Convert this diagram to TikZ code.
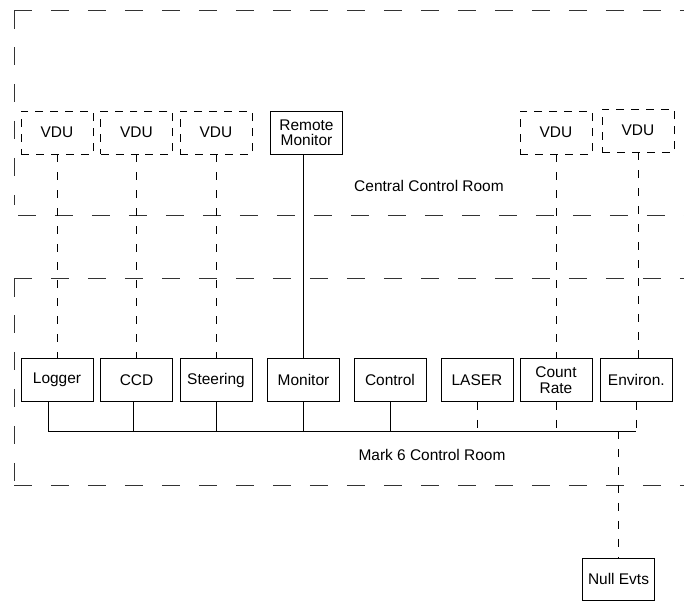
\documentclass[tikz,border=0pt]{standalone}
\usepackage{fontspec}
\setmainfont{Liberation Sans}
\usepackage{tikz}

\begin{document}
\begin{tikzpicture}[x=0.02cm, y=-0.02cm, font=\fontsize{8.8}{8.8}\selectfont,
      box/.style={draw, line width=0.5pt, align=center, minimum width=1.44cm,
      minimum height=0.86cm, inner sep=1pt}, vdubox/.style={box, dash
      pattern=on 0.16cm off 0.14cm}, wire/.style={line width=0.5pt},
      dwire/.style={line width=0.5pt, dash pattern=on 0.16cm off 0.2cm},
      room/.style={line width=0.45pt, draw=black!80, dash pattern=on 0.37cm
      off 0.37cm} ]

    \useasboundingbox (0,0) rectangle (684,600);

    % Central control room
    \draw[room] (14,10) -- (684,10); \draw[room] (14,10) -- (14,205);
    \draw[room] (18,215) -- (684,215);
    \node (central) at (429,186) {Central Control Room};

    \node[vdubox] (vdu1) at (57,132.5) {VDU}; \node[vdubox] (vdu2) at
    (136.5,132.5) {VDU}; \node[vdubox] (vdu3) at (216,132.5) {VDU};
    \node[box] (remote) at (306.5,132.5) {Remote\\Monitor}; \node[vdubox]
    (vdu4) at (556,132.5) {VDU}; \node[vdubox] (vdu5) at (638,130.5) {VDU};

    % Mark 6 control room
    \draw[room] (14,278) -- (684,278); \draw[room] (14,278) -- (14,485);
    \draw[room] (14,485) -- (684,485);
    \node (mark6) at (432,455) {Mark 6 Control Room};

    \node[box] (logger) at (57,380) {Logger}; \node[box] (ccd) at (136.5,380)
    {CCD}; \node[box] (steering) at (216,380) {Steering}; \node[box] (monitor)
    at (303.5,380) {Monitor}; \node[box] (control) at (390,380) {Control};
    \node[box] (laser) at (477,380) {LASER}; \node[box] (count) at (556,380)
    {Count\\Rate}; \node[box] (environ) at (636.3,380) {Environ.};

    \node[box, minimum height=0.84cm] (null) at (618.5,579) {Null Evts};

    % Links between the rooms
    \draw[dwire] (vdu1.south) -- (logger.north); \draw[dwire] (vdu2.south) --
    (ccd.north); \draw[dwire] (vdu3.south) -- (steering.north); \draw[dwire]
    (vdu4.south) -- (count.north); \draw[dwire] (vdu5.south) -- (vdu5.south
    |- environ.north); \draw[wire] (monitor.north |- remote.south) --
    (monitor.north);

    % Bus
    \coordinate (busL) at (48,431); \coordinate (busR) at (636.3,431);
    \coordinate (tap) at (618.5,431);
    \draw[wire] (busL |- logger.south) -- (busL) -- (busR);
    \draw[wire] ([xshift=-0.07cm]ccd.south) -- ([xshift=-0.07cm]ccd.south |-
    busL);
    \foreach \n in {steering,monitor,control} \draw[wire] (\n.south) --
    (\n.south |- busL);
    \foreach \n in {laser,count,environ} \draw[dwire] (\n.south) -- (\n.south
    |- busL);
    \draw[dwire] (tap) -- (null.north);

  \end{tikzpicture}
\end{document}
